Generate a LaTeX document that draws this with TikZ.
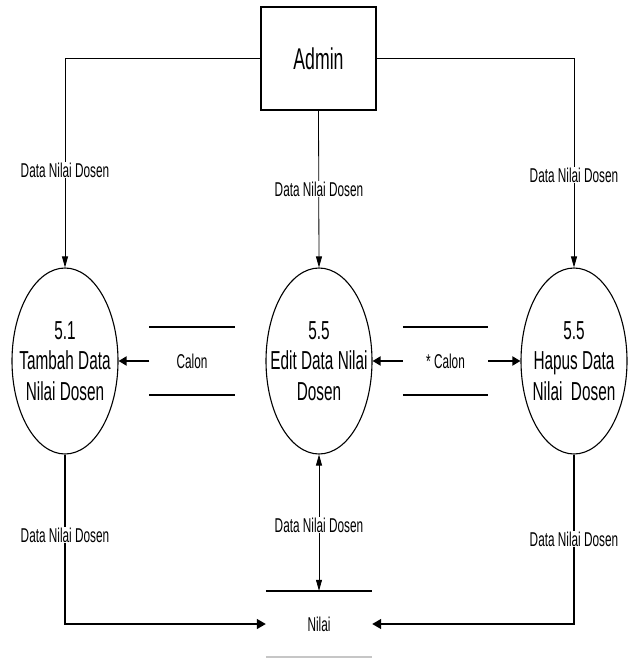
\documentclass[tikz,border=0pt]{standalone}
\usepackage{fontspec}
\setmainfont{Liberation Sans}[FakeStretch=0.59]
\usetikzlibrary{shapes.geometric}
\usetikzlibrary{arrows.meta}

\begin{document}
\begin{tikzpicture}[
    x=1pt, y=-1pt,
    entity/.style={rectangle, draw, line width=1.4pt, minimum width=115pt, minimum height=103pt, inner sep=0pt, font=\fontsize{30}{34}\selectfont},
    process/.style={ellipse, draw, line width=1.1pt, minimum width=106pt, minimum height=186pt, inner xsep=-12pt, inner ysep=0pt, align=center, font=\fontsize{26}{30.5}\selectfont},
    store/.style={rectangle, minimum width=85pt, minimum height=68pt, inner sep=0pt, font=\fontsize{20}{24}\selectfont},
    flow/.style={line width=0.8pt, -{Triangle[length=11pt, width=6pt]}},
    dataflow/.style={line width=1.8pt, -{Triangle[length=8pt, width=9pt]}},
    lbl/.style={fill=white, inner sep=1pt, font=\fontsize{20}{24}\selectfont},
    ]
  \useasboundingbox (0,0) rectangle (635,658);

  \node[entity] (admin) at (318.5,58.5) {Admin};

  \node[process] (p51) at (65,361) {5.1\\Tambah Data\\Nilai Dosen};
  \node[process] (p55e) at (319,361) {5.5\\Edit Data Nilai\\Dosen};
  \node[process] (p55h) at (574,361) {5.5\\Hapus Data\\Nilai\ \ Dosen};

  \node[store] (calonA) at (192,361) {Calon};
  \node[store] (calonB) at (445.5,361) {* Calon};
  \node[store, minimum width=106pt, minimum height=66pt] (nilai) at (319,624) {Nilai};

  % garis data store
  \draw[line width=2pt] (calonA.north west) -- (calonA.north east);
  \draw[line width=2pt] (calonA.south west) -- (calonA.south east);
  \draw[line width=2pt] (calonB.north west) -- (calonB.north east);
  \draw[line width=2pt] (calonB.south west) -- (calonB.south east);
  \draw[line width=2pt] (nilai.north west) -- (nilai.north east);
  \draw[line width=1.5pt, gray!45] (nilai.south west) -- (nilai.south east);

  \draw[flow] (admin.west) -| (p51.north);
  \draw[flow] (admin.south) -- (p55e.north);
  \draw[flow] (admin.east) -| (p55h.north);

  \draw[dataflow] (calonA.west) -- (p51.east);
  \draw[dataflow] (calonB.west) -- (p55e.east);
  \draw[dataflow] (calonB.east) -- (p55h.west);

  \draw[flow, line width=1.4pt, -{Triangle[length=9pt, width=10pt]}] (p51.south) |- (nilai.west);
  \draw[flow, line width=1.4pt, -{Triangle[length=9pt, width=10pt]}] (p55h.south) |- (nilai.east);
  \draw[flow, {Triangle[length=11pt, width=6pt]}-{Triangle[length=11pt, width=6pt]}] (p55e.south) -- (nilai.north);

  \node[lbl] (l1) at (65,170) {Data Nilai Dosen};
  \node[lbl] (l2) at (319,189) {Data Nilai Dosen};
  \node[lbl] (l3) at (574,175) {Data Nilai Dosen};
  \node[lbl] (l4) at (65,535) {Data Nilai Dosen};
  \node[lbl] (l5) at (319,525) {Data Nilai Dosen};
  \node[lbl] (l6) at (574,539) {Data Nilai Dosen};
\end{tikzpicture}
\end{document}
